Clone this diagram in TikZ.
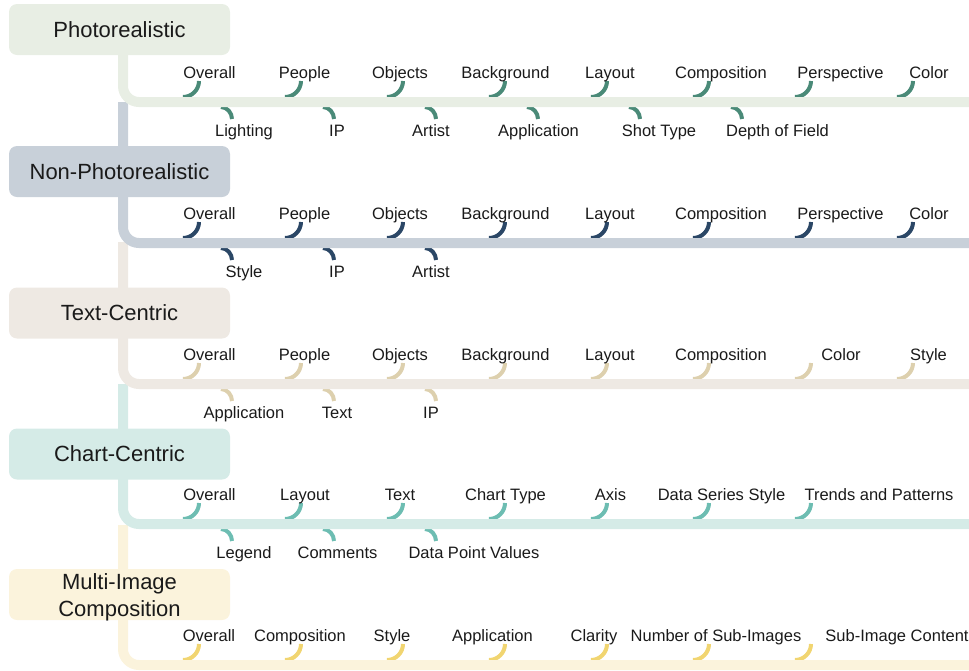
\documentclass[tikz,border=0pt]{standalone}
\usepackage{fontspec}
\setmainfont{Liberation Sans}

\definecolor{photoBg}{HTML}{E8EEE4}
\definecolor{photoHk}{HTML}{4A8A78}
\definecolor{nonphBg}{HTML}{C8D0D9}
\definecolor{nonphHk}{HTML}{2B4766}
\definecolor{textBg}{HTML}{EEE9E3}
\definecolor{textHk}{HTML}{DDD0AE}
\definecolor{chartBg}{HTML}{D5EBE7}
\definecolor{chartHk}{HTML}{6DBDB2}
\definecolor{multiBg}{HTML}{FBF3DC}
\definecolor{multiHk}{HTML}{F1D571}
\definecolor{ink}{HTML}{1A1A1A}

% #1 prefix, #2 trunk colour, #3 hook colour, #4 trunk start y, #5 branch y,
% #6 upper leaves (x/label), #7 lower leaves (x/label)
\newcommand\catbranch[7]{%
  \foreach \lx/\txt [count=\i from 0] in {#6} {
    \pgfmathsetmacro\ax{199+102*\i}
    \coordinate (#1-uh\i) at (\ax,#5-21);
    \draw[hook,#3] (\ax-16,#5-5) .. controls (\ax-7.2,#5-5) and (\ax,#5-12.2) .. (#1-uh\i);
    \node[leaf] (#1-u\i) at (\lx,#5-24) {\txt};
  }
  \foreach \lx/\txt [count=\i from 0] in {#7} {
    \pgfmathsetmacro\sx{221+102*\i}
    \coordinate (#1-lh\i) at (\sx+11,#5+17);
    \draw[hook,#3] (\sx,#5+5) .. controls (\sx+6.1,#5+5) and (\sx+11,#5+10.9) .. (#1-lh\i);
    \node[leaf] (#1-l\i) at (\lx,#5+34) {\txt};
  }
  \coordinate (#1-top) at (123,#4);
  \coordinate (#1-end) at (980,#5);
  \draw[trunk,#2] (#1-top) |- (#1-end);
}

\begin{document}
\begin{tikzpicture}[x=1pt,y=-1pt,
  leaf/.style={font=\fontsize{16.5}{19}\selectfont, text=ink, inner sep=0pt, anchor=base},
  catbox/.style={rounded corners=8pt, minimum width=221pt, minimum height=51pt,
    font=\fontsize{22}{27}\selectfont, text=ink, inner sep=0pt, align=center},
  trunk/.style={line width=10pt, rounded corners=16pt},
  hook/.style={line width=4pt}]
\useasboundingbox (0,0) rectangle (969,670);

% branches, drawn bottom-up so each trunk starts beneath the one above it
\catbranch{mi}{multiBg}{multiHk}{525}{665}
  {209/Overall, 300/Composition, 392/Style, 492.5/Application, 594/Clarity,
   716/Number of Sub-Images, 897/Sub-Image Content}{}
\catbranch{cc}{chartBg}{chartHk}{384}{524}
  {209.5/Overall, 305/Layout, 400/Text, 505.5/Chart Type, 610.5/Axis,
   721.5/Data Series Style, 879/Trends and Patterns}
  {244/Legend, 337.5/Comments, 474/Data Point Values}
\catbranch{tc}{textBg}{textHk}{242}{384}
  {209.5/Overall, 304.5/People, 400/Objects, 505.5/Background, 610/Layout,
   721/Composition, 841/Color, 928.5/Style}
  {244/Application, 337/Text, 431/IP}
\catbranch{np}{nonphBg}{nonphHk}{102}{243}
  {209.5/Overall, 304.5/People, 400/Objects, 505.5/Background, 610/Layout,
   721/Composition, 840.5/Perspective, 929/Color}
  {244/Style, 337/IP, 431/Artist}
\catbranch{ph}{photoBg}{photoHk}{30}{102}
  {209.5/Overall, 304.5/People, 400/Objects, 505.5/Background, 610/Layout,
   721/Composition, 840.5/Perspective, 929/Color}
  {244/Lighting, 337/IP, 431/Artist, 538.5/Application, 659/Shot Type,
   777.5/Depth of Field}

% category boxes
\node[catbox, fill=photoBg] (photo) at (119.5,29.5) {Photorealistic};
\node[catbox, fill=nonphBg] (nonph) at (119.5,171.5) {Non-Photorealistic};
\node[catbox, fill=textBg] (textc) at (119.5,313) {Text-Centric};
\node[catbox, fill=chartBg] (chart) at (119.5,454) {Chart-Centric};
\node[catbox, fill=multiBg] (multi) at (119.5,594.5) {};
\node[catbox, minimum height=0pt] (multitext) at (119.5,597) {Multi-Image\\Composition};
\end{tikzpicture}
\end{document}
